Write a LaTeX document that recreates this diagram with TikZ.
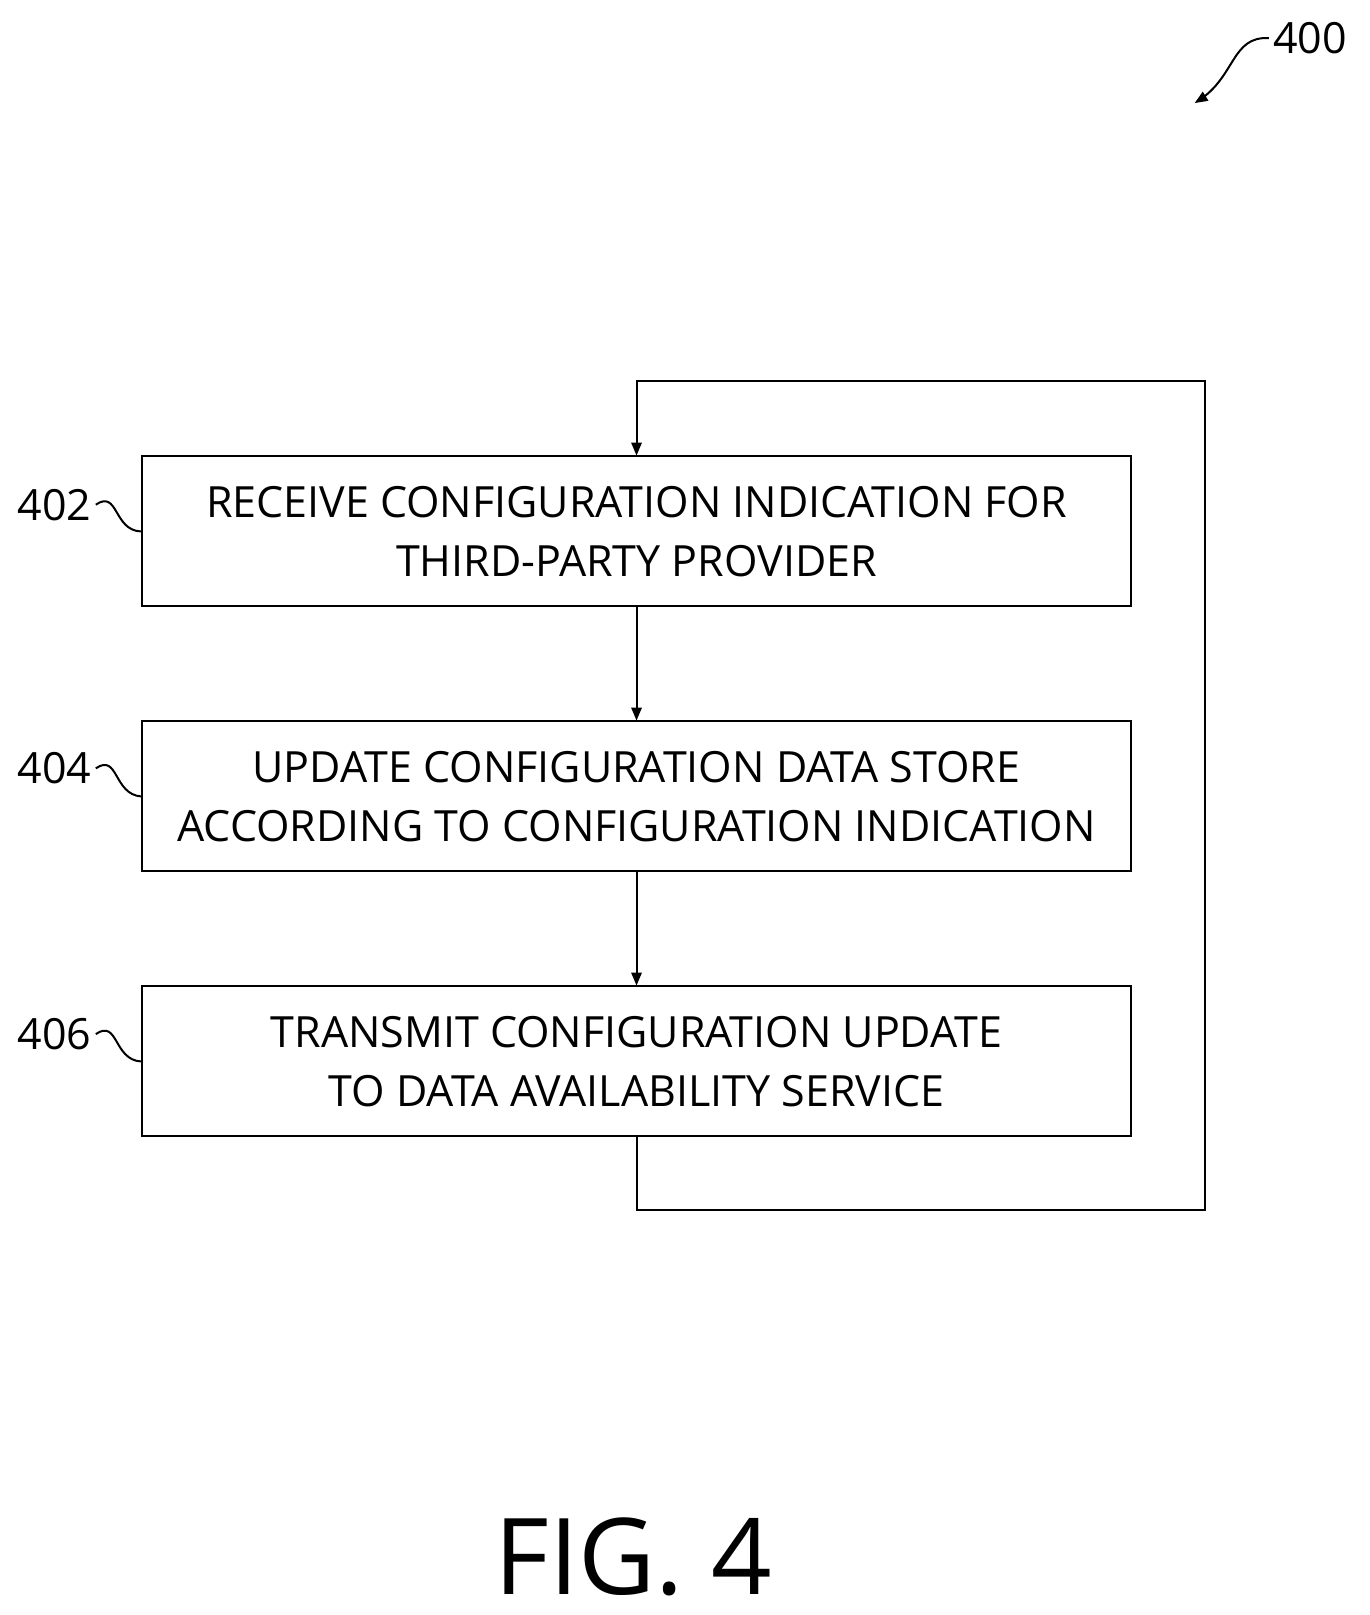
\documentclass[tikz,border=0pt]{standalone}
\usepackage{fontspec}
\setmainfont{Open Sans}
\usetikzlibrary{arrows, positioning}

\begin{document}
\begin{tikzpicture}[x=1.03pt,y=-1.03pt,>=triangle 45,node distance=265pt,on grid,
  line width=2pt, font=\fontsize{43}{59}\selectfont,
  stepbox/.style={draw,minimum width=989pt,minimum height=150pt,align=center,inner sep=0pt}]
	\useasboundingbox (0,0) rectangle (1330,1568);
	\node[stepbox] (B1) at (618,516) {RECEIVE CONFIGURATION INDICATION FOR\\THIRD-PARTY PROVIDER};
	\node[stepbox] (B2) [below =of B1] {UPDATE CONFIGURATION DATA STORE\\ACCORDING TO CONFIGURATION INDICATION};
	\node[stepbox] (B3) [below =of B2] {TRANSMIT CONFIGURATION UPDATE\\TO DATA AVAILABILITY SERVICE};
	
	\node (L1) at (53,490) {402};
	\node (L2) at (53,746) {404};
	\node (L3) at (53,1004) {406};
	\node (L0) at (1272,37) {400};
	
	\coordinate (C1) at (618,1175);
	\coordinate (C2) at (1170,1175);
	\coordinate (C3) at (1170,370);
	\coordinate (C4) at (618,370);
	
	\draw[->] (B1) -- (B2);
	\draw[->] (B2) -- (B3);
	\draw[->] (B3.south) -- (C1) -- (C2) -- (C3) -- (C4) -- (B1.north);
	
	\draw (L1.east) .. controls (115,475) and (110,515) .. (B1.west);
	\draw (L2.east) .. controls (115,731) and (110,771) .. (B2.west);
	\draw (L3.east) .. controls (115,989) and (110,1029) .. (B3.west);
	\draw[->] (L0.west) .. controls (1195,35) and (1200,75) .. (1160,100);
	
	\node (F) at (615,1512) {\fontsize{106}{116}\selectfont FIG. 4};
\end{tikzpicture}
\end{document}
